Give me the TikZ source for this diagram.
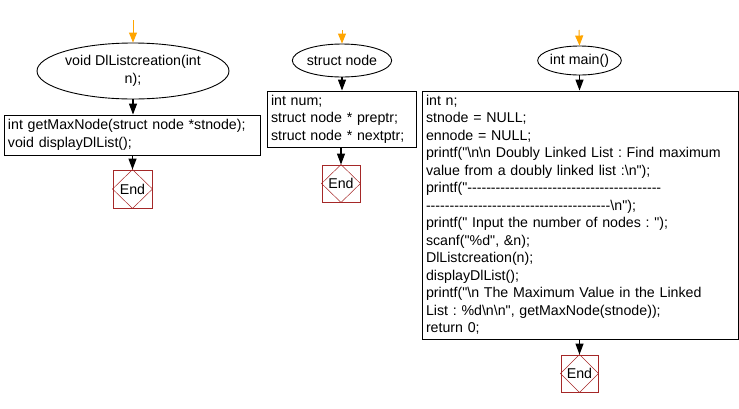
\documentclass[tikz,border=0pt]{standalone}
\usepackage{fontspec}
\newfontfamily\lf{Liberation Sans}
\usetikzlibrary{shapes.geometric,arrows.meta}
\definecolor{endred}{RGB}{165,40,40}
\definecolor{startor}{RGB}{255,165,0}
\tikzset{
  x=1pt,y=-1pt,
  txt/.style={font=\lf\fontsize{14.2}{17.5}\selectfont\frenchspacing},
  startell/.style={draw,ellipse,line width=0.9pt,inner sep=0pt,align=center,txt},
  codebox/.style={draw,rectangle,line width=0.9pt,inner xsep=4pt,inner ysep=0pt,align=left,txt},
  endbox/.style={draw=endred,rectangle,line width=0.9pt,inner sep=0pt,txt},
  orarrow/.style={draw=startor,line width=1pt,-{Triangle[width=8pt,length=10pt,fill=startor]}},
  blarrow/.style={draw=black,line width=1.2pt,-{Triangle[width=8pt,length=11pt,fill=black]}},
}
\newcommand{\myEndDiamond}[1]{\draw[endred,line width=0.5pt] (#1.north)--(#1.east)--(#1.south)--(#1.west)--cycle;}
\begin{document}
\begin{tikzpicture}
\useasboundingbox (0,0) rectangle (739,408);
% column 1
\coordinate (o1) at (133,20);
\node[startell,minimum width=169pt,minimum height=56pt] (e1) at (133,71) {void DlListcreation(int\\n);};
\node[codebox,minimum width=256pt,minimum height=40pt,text width=248pt] (b1) at (132,135)
  {int getMaxNode(struct node *stnode);\\void displayDlList();};
\node[endbox,minimum width=39pt,minimum height=38pt] (en1) at (132.5,189) {End};
\myEndDiamond{en1}
\draw[orarrow] (o1) -- (e1.north);
\draw[blarrow] (e1.south) -- (b1.north-|e1.south);
\draw[blarrow] (b1.south-|en1.north) -- (en1.north);
% column 2
\coordinate (o2) at (342,30);
\node[startell,minimum width=91pt,minimum height=33pt] (e2) at (342,60.5) {struct node};
\node[codebox,minimum width=149pt,minimum height=56pt,text width=141pt] (b2) at (341.5,119)
  {int num;\\struct node * preptr;\\struct node * nextptr;};
\node[endbox,minimum width=38pt,minimum height=37pt] (en2) at (341,183.5) {End};
\myEndDiamond{en2}
\draw[orarrow] (o2) -- (e2.north);
\draw[blarrow] (e2.south) -- (b2.north-|e2.south);
\draw[blarrow] (b2.south-|en2.north) -- (en2.north);
% column 3
\coordinate (o3) at (579,30);
\node[startell,minimum width=81pt,minimum height=29pt] (e3) at (579.5,60.5) {int main()};
\node[codebox,minimum width=316pt,minimum height=248pt,text width=308pt] (b3) at (580,215)
  {int n;\\
   stnode = NULL;\\
   ennode = NULL;\\
   printf("\textbackslash n\textbackslash n Doubly Linked List : Find maximum\\
   value from a doubly linked list :\textbackslash n");\\
   printf("-----------------------------------------\\
   ---------------------------------------\textbackslash n");\\
   printf(" Input the number of nodes : ");\\
   scanf("\%d", \&n);\\
   DlListcreation(n);\\
   displayDlList();\\
   printf("\textbackslash n The Maximum Value in the Linked\\
   List : \%d\textbackslash n\textbackslash n", getMaxNode(stnode));\\
   return 0;};
\node[endbox,minimum width=37pt,minimum height=37pt] (en3) at (579.5,373.5) {End};
\myEndDiamond{en3}
\draw[orarrow] (o3) -- (e3.north);
\draw[blarrow] (e3.south) -- (b3.north-|e3.south);
\draw[blarrow] (b3.south-|en3.north) -- (en3.north);
\end{tikzpicture}
\end{document}
